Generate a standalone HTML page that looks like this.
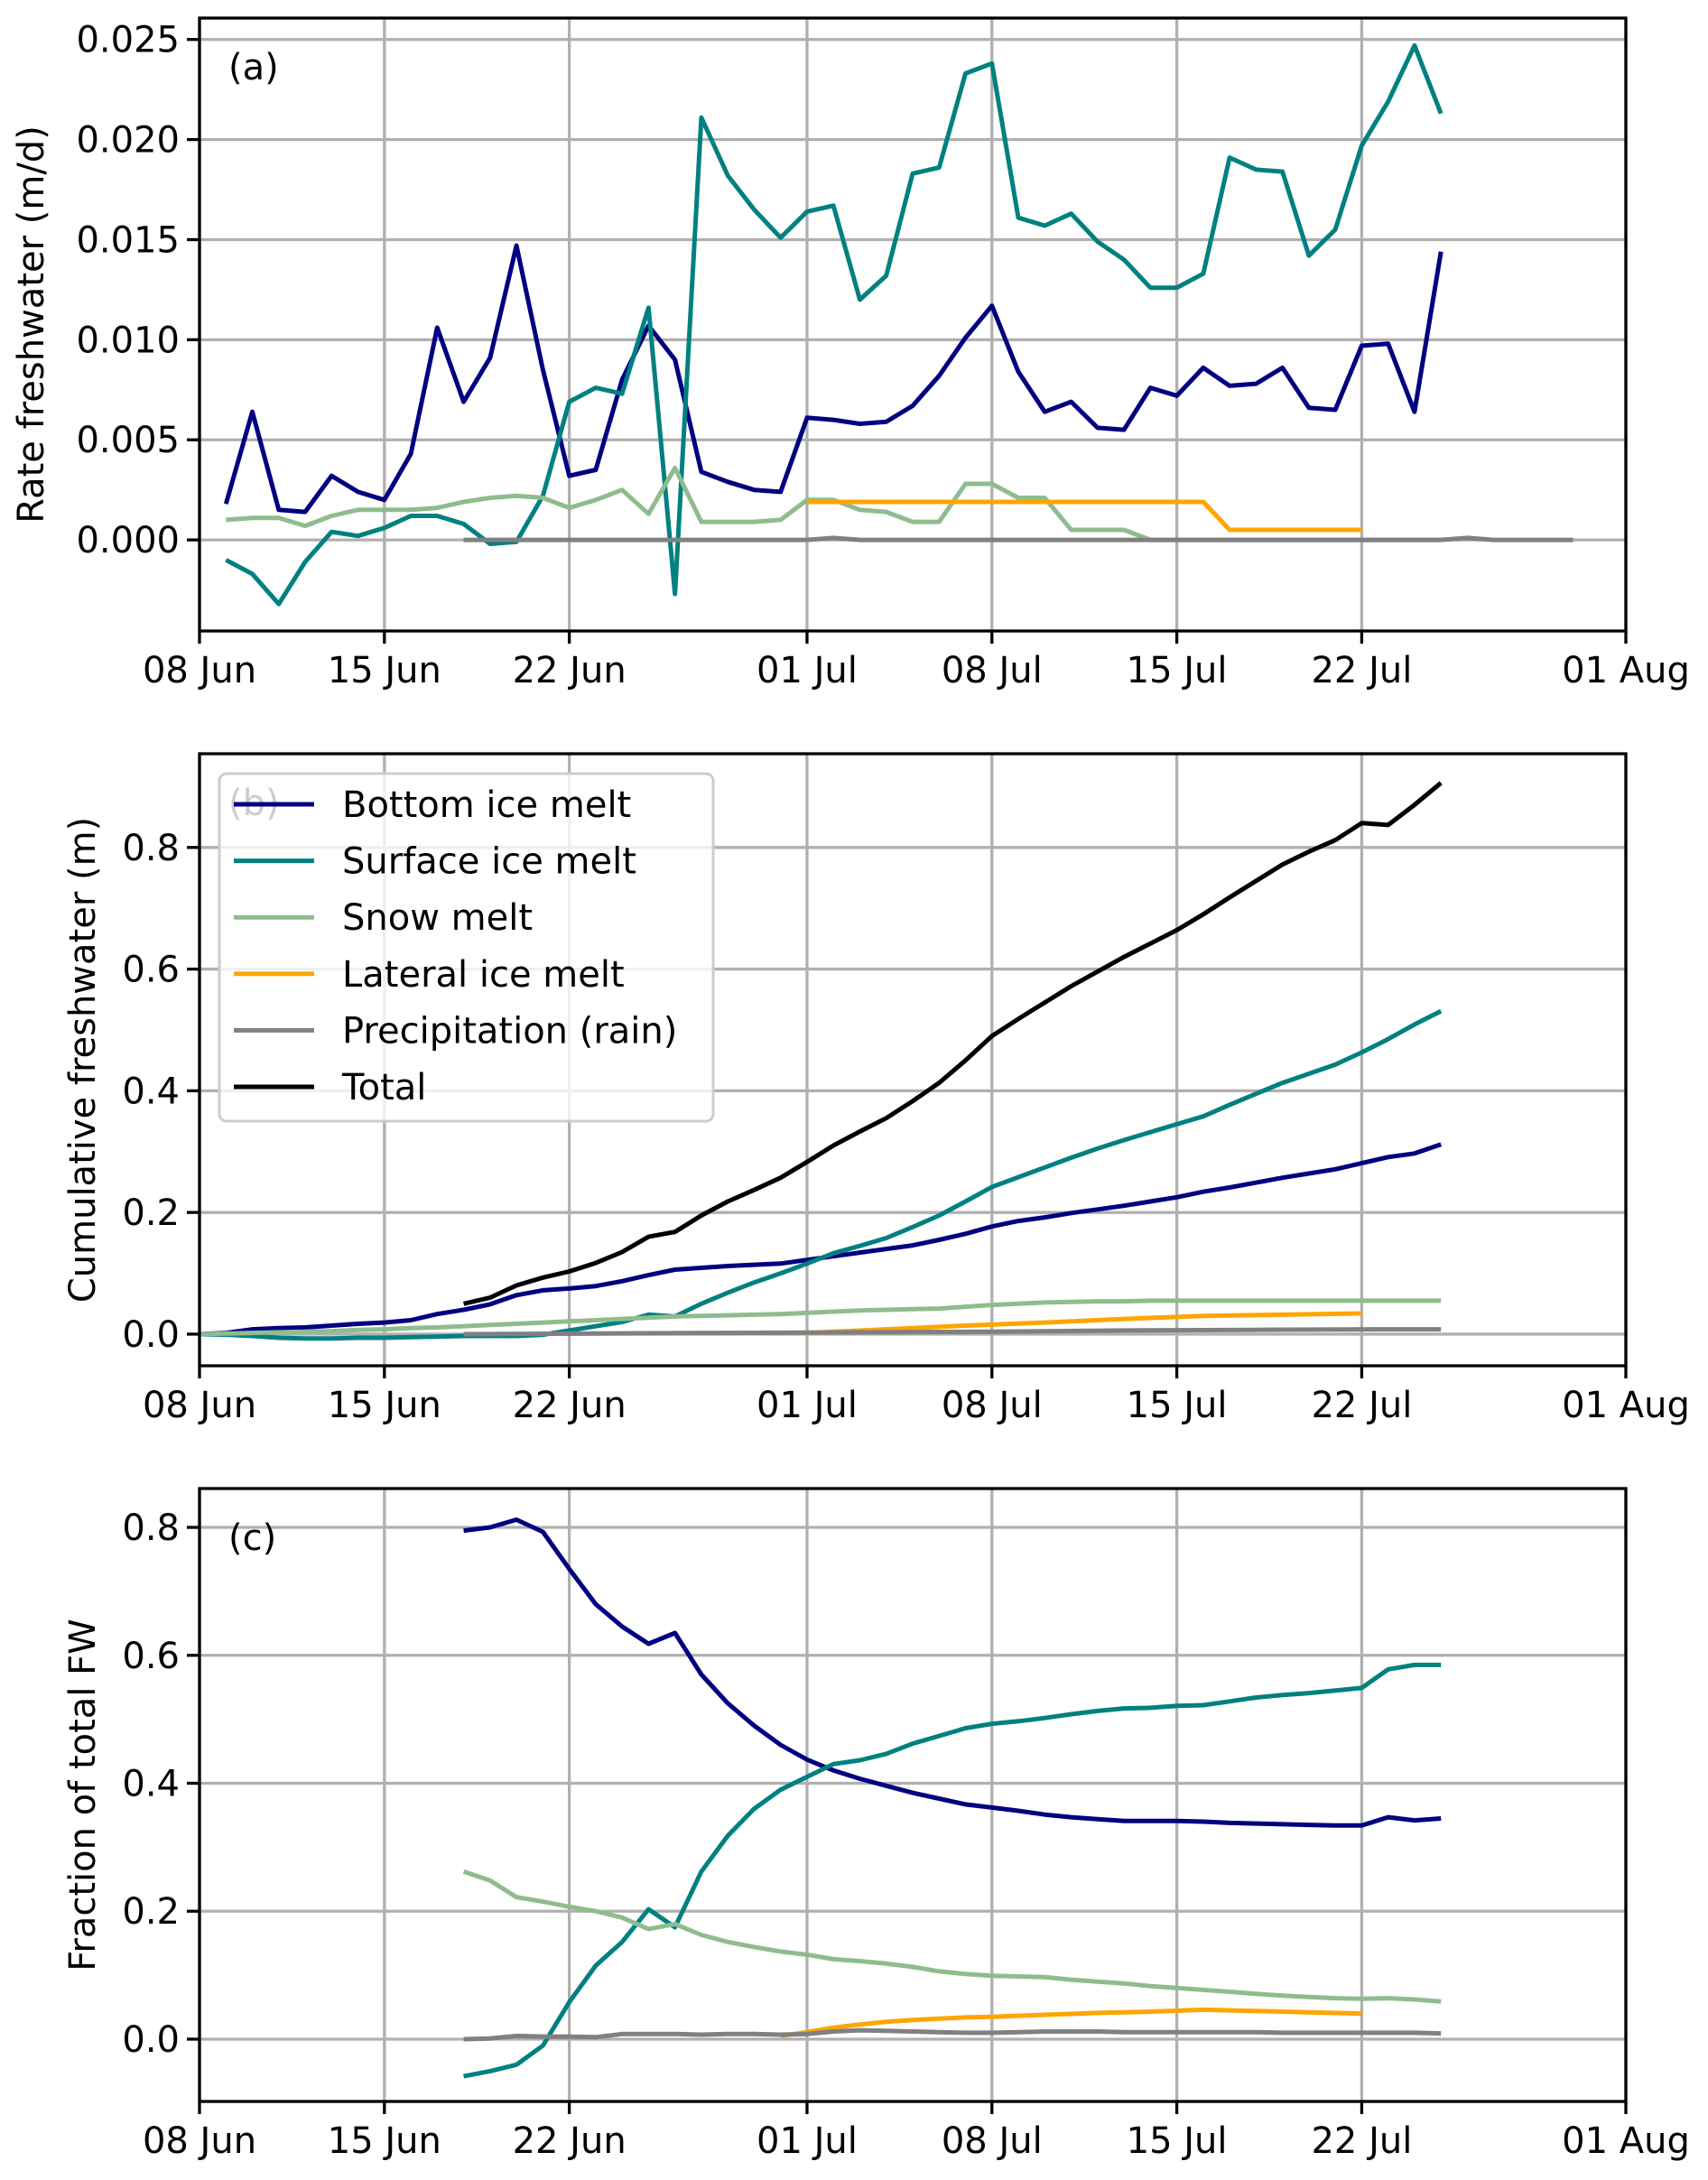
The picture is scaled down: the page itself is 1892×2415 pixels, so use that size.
<!DOCTYPE html>
<html><head><meta charset="utf-8"><style>
html,body{margin:0;padding:0;background:#fff}
svg{display:block}
text{font-family:"DejaVu Sans","Liberation Sans",sans-serif;fill:#000}
</style></head><body>
<svg id="fig" width="1892" height="2415" viewBox="0 0 1892 2415"></svg>
<script>
const xTickDays=[0,7,14,23,30,37,44,54];
const xTickLabels=["08 Jun","15 Jun","22 Jun","01 Jul","08 Jul","15 Jul","22 Jul","01 Aug"];
// Panel a: rate (m/d), day index from 08 Jun
const aBottomDays=[1,2,3,4,5,6,7,8,9,10,11,12,13,14,15,16,17,18,19,20,21,22,23,24,25,26,27,28,29,30,31,32,33,34,35,36,37,38,39,40,41,42,43,44,45,46,47];
const aBottom=[0.0018,0.0064,0.0015,0.0014,0.0032,0.0024,0.0020,0.0043,0.0106,0.0069,0.0091,0.0147,0.0085,0.0032,0.0035,0.0080,0.0107,0.0090,0.0034,0.0029,0.0025,0.0024,0.0061,0.0060,0.0058,0.0059,0.0067,0.0082,0.0101,0.0117,0.0084,0.0064,0.0069,0.0056,0.0055,0.0076,0.0072,0.0086,0.0077,0.0078,0.0086,0.0066,0.0065,0.0097,0.0098,0.0064,0.0144];
const aSurface=[-0.0010,-0.0017,-0.0032,-0.0011,0.0004,0.0002,0.0006,0.0012,0.0012,0.0008,-0.0002,-0.0001,0.0022,0.0069,0.0076,0.0073,0.0116,-0.0027,0.0211,0.0182,0.0165,0.0151,0.0164,0.0167,0.0120,0.0132,0.0183,0.0186,0.0233,0.0238,0.0161,0.0157,0.0163,0.0149,0.0140,0.0126,0.0126,0.0133,0.0191,0.0185,0.0184,0.0142,0.0155,0.0197,0.0219,0.0247,0.0213];
const aSnow=[0.0010,0.0011,0.0011,0.0007,0.0012,0.0015,0.0015,0.0015,0.0016,0.0019,0.0021,0.0022,0.0021,0.0016,0.0020,0.0025,0.0013,0.0036,0.0009,0.0009,0.0009,0.0010,0.0020,0.0020,0.0015,0.0014,0.0009,0.0009,0.0028,0.0028,0.0021,0.0021,0.0005,0.0005,0.0005,0.0000,0,0,0,0,0,0,0,0,0,0,0];
const aLatDays=[23,24,25,26,27,28,29,30,31,32,33,34,35,36,37,38,39,40,41,42,43,44];
const aLat=[0.0019,0.0019,0.0019,0.0019,0.0019,0.0019,0.0019,0.0019,0.0019,0.0019,0.0019,0.0019,0.0019,0.0019,0.0019,0.0019,0.0005,0.0005,0.0005,0.0005,0.0005,0.0005];
const aPrecDays=[10,12,14,16,18,20,22,23,24,25,26,28,30,32,34,36,38,40,42,44,46,47,48,49,50,52];
const aPrec=[0,0,0,0,0,0,0,0,0.0001,0,0,0,0,0,0,0,0,0,0,0,0,0,0.0001,0,0,0];
// Panel b: cumulative (m)
const bDays=[0,1,2,3,4,5,6,7,8,9,10,11,12,13,14,15,16,17,18,19,20,21,22,23,24,25,26,27,28,29,30,31,32,33,34,35,36,37,38,39,40,41,42,43,44,45,46,47];
const bBottom=[0,0.002,0.008,0.010,0.011,0.014,0.017,0.019,0.023,0.033,0.040,0.049,0.064,0.072,0.075,0.079,0.087,0.097,0.106,0.109,0.112,0.114,0.116,0.122,0.128,0.134,0.140,0.146,0.155,0.165,0.177,0.186,0.192,0.199,0.205,0.211,0.218,0.225,0.234,0.241,0.249,0.257,0.264,0.271,0.281,0.291,0.297,0.312];
const bSurface=[0,-0.001,-0.003,-0.006,-0.007,-0.007,-0.006,-0.006,-0.005,-0.004,-0.003,-0.003,-0.003,-0.001,0.006,0.013,0.020,0.032,0.029,0.050,0.068,0.085,0.100,0.116,0.133,0.145,0.158,0.176,0.195,0.218,0.242,0.258,0.274,0.290,0.305,0.319,0.332,0.345,0.358,0.377,0.395,0.413,0.428,0.443,0.463,0.485,0.509,0.531];
const bSnow=[0,0.001,0.002,0.003,0.004,0.005,0.007,0.008,0.010,0.011,0.013,0.015,0.017,0.019,0.021,0.023,0.025,0.027,0.029,0.030,0.031,0.032,0.033,0.035,0.037,0.039,0.040,0.041,0.042,0.045,0.048,0.050,0.052,0.053,0.054,0.054,0.055,0.055,0.055,0.055,0.055,0.055,0.055,0.055,0.055,0.055,0.055,0.055];
const bLatDays=[23,26,29,32,35,38,41,44];
const bLat=[0.002,0.008,0.014,0.019,0.025,0.030,0.032,0.034];
const bPrecDays=[10,15,20,25,30,35,40,45,47];
const bPrec=[0,0.001,0.002,0.003,0.004,0.006,0.007,0.008,0.008];
const bTotalDays=[10,11,12,13,14,15,16,17,18,19,20,21,22,23,24,25,26,27,28,29,30,31,32,33,34,35,36,37,38,39,40,41,42,43,44,45,46,47];
const bTotal=[0.050,0.060,0.080,0.093,0.103,0.117,0.135,0.160,0.168,0.195,0.218,0.237,0.257,0.283,0.310,0.333,0.355,0.383,0.413,0.450,0.490,0.518,0.545,0.572,0.596,0.620,0.642,0.664,0.690,0.718,0.745,0.772,0.793,0.812,0.840,0.837,0.870,0.906];
// Panel c: fraction
const cDays=[10,11,12,13,14,15,16,17,18,19,20,21,22,23,24,25,26,27,28,29,30,31,32,33,34,35,36,37,38,39,40,41,42,43,44,45,46,47];
const cBottom=[0.795,0.800,0.812,0.793,0.735,0.680,0.645,0.618,0.635,0.570,0.525,0.490,0.460,0.437,0.420,0.407,0.396,0.385,0.376,0.367,0.362,0.357,0.351,0.347,0.344,0.341,0.341,0.341,0.340,0.338,0.337,0.336,0.335,0.334,0.334,0.347,0.342,0.345];
const cSurface=[-0.058,-0.050,-0.040,-0.010,0.058,0.115,0.152,0.203,0.175,0.262,0.318,0.360,0.390,0.410,0.430,0.436,0.446,0.462,0.474,0.486,0.493,0.497,0.502,0.508,0.513,0.517,0.518,0.521,0.522,0.528,0.534,0.538,0.541,0.545,0.549,0.578,0.585,0.585];
const cSnow=[0.262,0.248,0.222,0.215,0.207,0.200,0.190,0.172,0.180,0.163,0.152,0.144,0.137,0.132,0.125,0.122,0.118,0.113,0.106,0.102,0.099,0.098,0.097,0.093,0.090,0.087,0.083,0.080,0.077,0.074,0.071,0.068,0.066,0.064,0.063,0.064,0.062,0.059];
const cLatDays=[22,23,24,25,26,27,28,29,30,32,34,36,38,40,42,44];
const cLat=[0.005,0.011,0.018,0.023,0.027,0.030,0.032,0.034,0.035,0.038,0.041,0.043,0.046,0.044,0.042,0.040];
const cPrec=[0.000,0.001,0.005,0.004,0.004,0.003,0.008,0.008,0.008,0.007,0.008,0.008,0.007,0.008,0.012,0.014,0.013,0.012,0.011,0.010,0.010,0.011,0.012,0.012,0.012,0.011,0.011,0.011,0.011,0.011,0.011,0.010,0.010,0.010,0.010,0.010,0.010,0.009];

const NS="http://www.w3.org/2000/svg";
const svg=document.getElementById('fig');
function mk(tag,attrs,parent){const e=document.createElementNS(NS,tag);for(const k in attrs)e.setAttribute(k,attrs[k]);(parent||svg).appendChild(e);return e;}
const L=221,R=1801,D0=0,D1=54;
function xs(d){return L+(d-D0)/(D1-D0)*(R-L);}
const C={bottom:'#000080',surface:'#008080',snow:'#8fbc8f',lat:'#ffa500',prec:'#808080',total:'#000000'};

function panel(name,top,bot,ymin,ymax,yticks,ylabels,ylabel,ylabX,series,letter){
  const g=mk('g',{});
  
  
  const ys=v=>bot-(v-ymin)/(ymax-ymin)*(bot-top);
  // grid
  xTickDays.forEach(d=>{const l=mk('line',{x1:xs(d),x2:xs(d),y1:top,y2:bot,stroke:'#b0b0b0','stroke-width':3.3},g);
    });
  yticks.forEach(v=>{const l=mk('line',{x1:L,x2:R,y1:ys(v),y2:ys(v),stroke:'#b0b0b0','stroke-width':3.3},g);
    });
  // series
  const cp=mk('clipPath',{id:'clip-'+name},g);mk('rect',{x:L,y:top,width:R-L,height:bot-top},cp);
  series.forEach(s=>{
    const pts=s.days.map((d,i)=>xs(d).toFixed(1)+','+ys(s.vals[i]).toFixed(1)).join(' ');
    const p=mk('polyline',{points:pts,fill:'none',stroke:s.color,'stroke-width':5,'stroke-linejoin':'round','clip-path':'url(#clip-'+name+')'},g);
    
    
  });
  // frame
  const fr=mk('rect',{x:L,y:top,width:R-L,height:bot-top,fill:'none',stroke:'#000','stroke-width':3.3},g);
  
  // ticks
  xTickDays.forEach((d,i)=>{mk('line',{x1:xs(d),x2:xs(d),y1:bot,y2:bot+14,stroke:'#000','stroke-width':3.3},g);
    const t=mk('text',{x:xs(d),y:bot+57,'font-size':40,'text-anchor':'middle'},g);t.textContent=xTickLabels[i];
    });
  yticks.forEach((v,i)=>{mk('line',{x1:L-14,x2:L,y1:ys(v),y2:ys(v),stroke:'#000','stroke-width':3.3},g);
    const t=mk('text',{x:L-22,y:ys(v)+14,'font-size':40,'text-anchor':'end'},g);t.textContent=ylabels[i];
    });
  const yl=mk('text',{x:0,y:0,'font-size':40,'text-anchor':'middle',transform:`translate(${ylabX},${(top+bot)/2}) rotate(-90)`},g);
  yl.textContent=ylabel;
  const pl=mk('text',{x:253,y:top+68,'font-size':40,fill:letter==='(b)'?'#bbb':'#000'},g);
  pl.textContent=letter;
  return g;
}
panel('panel-a-rate',20,699,-0.00455,0.02607,[0,0.005,0.01,0.015,0.02,0.025],['0.000','0.005','0.010','0.015','0.020','0.025'],'Rate freshwater (m/d)',48,[
 {name:'rate-bottom-ice-melt',days:aBottomDays,vals:aBottom,color:C.bottom},
 {name:'rate-surface-ice-melt',days:aBottomDays,vals:aSurface,color:C.surface},
 {name:'rate-snow-melt',days:aBottomDays,vals:aSnow,color:C.snow},
 {name:'rate-lateral-ice-melt',days:aLatDays,vals:aLat,color:C.lat},
 {name:'rate-precipitation',days:aPrecDays,vals:aPrec,color:C.prec}],'(a)');
panel('panel-b-cumulative',835,1513,-0.052,0.954,[0,0.2,0.4,0.6,0.8],['0.0','0.2','0.4','0.6','0.8'],'Cumulative freshwater (m)',105,[
 {name:'cum-bottom-ice-melt',days:bDays,vals:bBottom,color:C.bottom},
 {name:'cum-surface-ice-melt',days:bDays,vals:bSurface,color:C.surface},
 {name:'cum-snow-melt',days:bDays,vals:bSnow,color:C.snow},
 {name:'cum-lateral-ice-melt',days:bLatDays,vals:bLat,color:C.lat},
 {name:'cum-precipitation',days:bPrecDays,vals:bPrec,color:C.prec},
 {name:'cum-total',days:bTotalDays,vals:bTotal,color:C.total}],'(b)');
panel('panel-c-fraction',1649,2328,-0.0974,0.8607,[0,0.2,0.4,0.6,0.8],['0.0','0.2','0.4','0.6','0.8'],'Fraction of total FW',105,[
 {name:'frac-bottom-ice-melt',days:cDays,vals:cBottom,color:C.bottom},
 {name:'frac-surface-ice-melt',days:cDays,vals:cSurface,color:C.surface},
 {name:'frac-snow-melt',days:cDays,vals:cSnow,color:C.snow},
 {name:'frac-lateral-ice-melt',days:cLatDays,vals:cLat,color:C.lat},
 {name:'frac-precipitation',days:cDays,vals:cPrec,color:C.prec}],'(c)');
// legend
const lg=mk('g',{});


mk('rect',{x:243,y:857,width:547,height:385,rx:8,fill:'#fff','fill-opacity':0.8,stroke:'#ccc','stroke-width':3},lg);
const legNames=['Bottom ice melt','Surface ice melt','Snow melt','Lateral ice melt','Precipitation (rain)','Total'];
const legColors=[C.bottom,C.surface,C.snow,C.lat,C.prec,C.total];
legNames.forEach((n,i)=>{const y=891+i*62.6;
  const e=mk('g',{},lg);
  
  
  mk('line',{x1:259,x2:348,y1:y,y2:y,stroke:legColors[i],'stroke-width':5},e);
  const t=mk('text',{x:379,y:y+14,'font-size':40},e);t.textContent=n;});
</script>
</body></html>
